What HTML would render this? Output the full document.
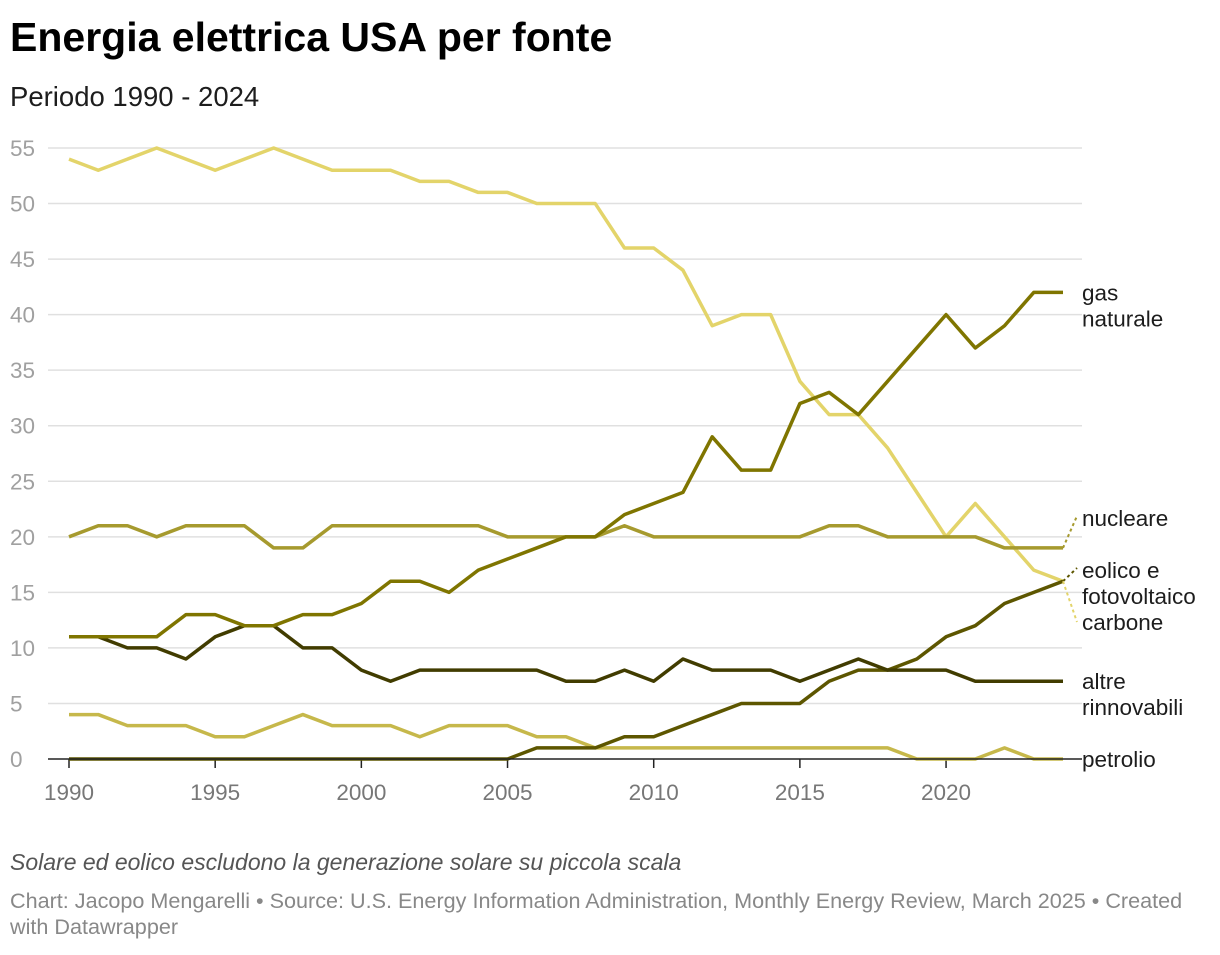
<!DOCTYPE html>
<html><head><meta charset="utf-8"><style>
body{margin:0;background:#fff;width:1220px;height:950px;overflow:hidden;font-family:"Liberation Sans",sans-serif;}
svg text{font-family:"Liberation Sans",sans-serif;}
</style></head><body>
<svg id="chart" width="1220" height="950">
<text x="10" y="51" font-size="41" font-weight="bold" fill="#000">Energia elettrica USA per fonte</text>
<text x="10" y="106" font-size="27.5" fill="#1d1d1d">Periodo 1990 - 2024</text>
<g id="grid"></g><g id="lines"></g><g id="labels"></g>
<text x="10" y="870" font-size="23" font-style="italic" fill="#555">Solare ed eolico escludono la generazione solare su piccola scala</text>
<text x="10" y="908" font-size="21.6" fill="#888">Chart: Jacopo Mengarelli • Source: U.S. Energy Information Administration, Monthly Energy Review, March 2025 • Created</text>
<text x="10" y="934" font-size="21.6" fill="#888">with Datawrapper</text>
</svg>
<script>
const years=[];for(let y=1990;y<=2024;y++)years.push(y);
const yTicks=[0,5,10,15,20,25,30,35,40,45,50,55];
const xTicks=[1990,1995,2000,2005,2010,2015,2020];
const carbone=[54,53,54,55,54,53,54,55,54,53,53,53,52,52,51,51,50,50,50,46,46,44,39,40,40,34,31,31,28,24,20,23,20,17,16];
const gas=[11,11,11,11,13,13,12,12,13,13,14,16,16,15,17,18,19,20,20,22,23,24,29,26,26,32,33,31,34,37,40,37,39,42,42];
const nucleare=[20,21,21,20,21,21,21,19,19,21,21,21,21,21,21,20,20,20,20,21,20,20,20,20,20,20,21,21,20,20,20,20,19,19,19];
const altre=[11,11,10,10,9,11,12,12,10,10,8,7,8,8,8,8,8,7,7,8,7,9,8,8,8,7,8,9,8,8,8,7,7,7,7];
const eolico=[0,0,0,0,0,0,0,0,0,0,0,0,0,0,0,0,1,1,1,2,2,3,4,5,5,5,7,8,8,9,11,12,14,15,16];
const petrolio=[4,4,3,3,3,2,2,3,4,3,3,3,2,3,3,3,2,2,1,1,1,1,1,1,1,1,1,1,1,0,0,0,1,0,0];
const NS="http://www.w3.org/2000/svg";
const X=y=>69+(y-1990)*(994/34);
const Y=v=>759-v*(611/55);
function mk(t,a,p){const e=document.createElementNS(NS,t);for(const k in a)e.setAttribute(k,a[k]);p.appendChild(e);return e;}
const grid=document.getElementById('grid'),lines=document.getElementById('lines'),labels=document.getElementById('labels');
yTicks.forEach(v=>{
  if(v>0){const l=mk('line',{x1:48,x2:1082,y1:Y(v),y2:Y(v),stroke:'#e0e0e0','stroke-width':1.5},grid);
  
  }
  const t=mk('text',{x:10,y:Y(v)+8,'font-size':22.5,fill:'#a0a0a0'},grid);t.textContent=v;
  
  
});
xTicks.forEach(y=>{
  const l=mk('line',{x1:X(y),x2:X(y),y1:759,y2:768,stroke:'#222','stroke-width':1.5},grid);
  
  
  const t=mk('text',{x:X(y),y:800,'font-size':22.5,fill:'#777','text-anchor':'middle'},grid);t.textContent=y;
  
  
});
const series=[
 ['petrolio',petrolio,'#c6b84b'],['carbone',carbone,'#e3d46a'],['nucleare',nucleare,'#a69a2e'],
 ['eolico',eolico,'#5d5600'],['altre',altre,'#413c00'],['gas',gas,'#7f7500']];
series.forEach(([n,d,c])=>{
  const p=mk('polyline',{points:d.map((v,i)=>X(years[i])+','+Y(v)).join(' '),fill:'none',stroke:c,'stroke-width':3.5,'stroke-linejoin':'round'},lines);
  
  
});
const base=mk('line',{x1:48,x2:1082,y1:759,y2:759,stroke:'#222','stroke-width':1.5},lines);


const lx=1082,last=X(2024);
const labs=[
 ['gas',['gas','naturale'],Y(42)+8,null,'#7f7500'],
 ['nucleare',['nucleare'],526,[Y(19),516],'#a69a2e'],
 ['eolico',['eolico e','fotovoltaico'],578,[Y(16),568],'#5d5600'],
 ['carbone',['carbone'],630,[Y(16),622],'#e3d46a'],
 ['altre',['altre','rinnovabili'],Y(7)+8,null,'#413c00'],
 ['petrolio',['petrolio'],Y(0)+8,null,'#c6b84b']];
labs.forEach(([n,ls,y0,conn,c])=>{
  if(conn){const l=mk('line',{x1:last,y1:conn[0],x2:lx-5,y2:conn[1],stroke:c,'stroke-width':2,'stroke-dasharray':'3,3'},labels);
  
  }
  ls.forEach((s,i)=>{const t=mk('text',{x:lx,y:y0+i*26,'font-size':22.5,fill:'#1d1d1d'},labels);t.textContent=s;
  
  });
});
</script>
</body></html>
